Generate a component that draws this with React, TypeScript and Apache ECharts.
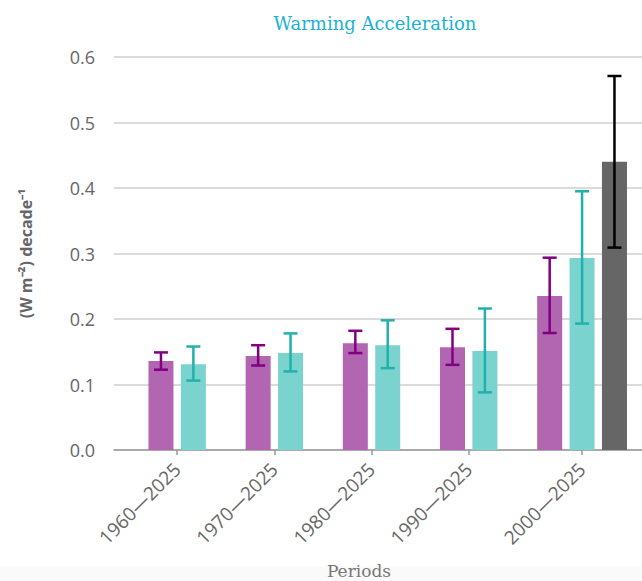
import React, { useEffect, useRef } from "react";
import * as echarts from "echarts";

const categories = ["1960—2025", "1970—2025", "1980—2025", "1990—2025", "2000—2025"];

const seriesA = [0.136, 0.1435, 0.163, 0.157, 0.235];
const seriesALow = [0.1226, 0.129, 0.148, 0.13, 0.1786];
const seriesAHigh = [0.149, 0.16, 0.182, 0.185, 0.2936];

const seriesB = [0.131, 0.148, 0.16, 0.151, 0.293];
const seriesBLow = [0.106, 0.12, 0.125, 0.088, 0.193];
const seriesBHigh = [0.158, 0.178, 0.198, 0.216, 0.395];

const seriesC = [null, null, null, null, 0.44];
const seriesCLow = [null, null, null, null, 0.309];
const seriesCHigh = [null, null, null, null, 0.571];

const yTicks = [0, 0.1, 0.2, 0.3, 0.4, 0.5, 0.6];

const barColors = ["#b266b2", "#7ad3cf", "#666666"];
const errColors = ["#800080", "#20b2aa", "#000000"];

export default function App() {
  const ref = useRef<HTMLDivElement>(null);

  useEffect(() => {
    if (!ref.current) return;
    const chart = echarts.init(ref.current, null, { renderer: "svg" });

    const groups = [
      { v: seriesA, lo: seriesALow, hi: seriesAHigh },
      { v: seriesB, lo: seriesBLow, hi: seriesBHigh },
      { v: seriesC, lo: seriesCLow, hi: seriesCHigh },
    ];

    // slot layout: bars of a category occupy consecutive slots, one empty slot between categories
    const barData: any[][] = [[], [], []];
    const errData: any[][] = [[], [], []];
    const centers: number[] = [];
    let s = 0;
    categories.forEach((_, i) => {
      const present = groups.map((g, k) => (g.v[i] != null ? k : -1)).filter((k) => k >= 0);
      present.forEach((k, j) => {
        const x = s + j;
        barData[k].push([x, groups[k].v[i]]);
        errData[k].push([x, groups[k].lo[i], groups[k].hi[i]]);
      });
      centers.push(s + (present.length - 1) / 2);
      s += present.length + 1;
    });

    const labelFor = (val: number) => {
      const idx = centers.findIndex((c) => Math.abs(c - val) < 1e-6);
      return idx >= 0 ? categories[idx] : "";
    };

    const errSeries = errData.map((d, k) => ({
      type: "custom",
      data: d,
      z: 5,
      renderItem: (params: any, api: any) => {
        const x = api.value(0);
        const lo = api.coord([x, api.value(1)]);
        const hi = api.coord([x, api.value(2)]);
        const cap = 7;
        const style = { stroke: errColors[k], lineWidth: 2.5 };
        return {
          type: "group",
          children: [
            { type: "line", shape: { x1: lo[0], y1: lo[1], x2: hi[0], y2: hi[1] }, style },
            { type: "line", shape: { x1: hi[0] - cap, y1: hi[1], x2: hi[0] + cap, y2: hi[1] }, style },
            { type: "line", shape: { x1: lo[0] - cap, y1: lo[1], x2: lo[0] + cap, y2: lo[1] }, style },
          ],
        };
      },
    }));

    const option: any = {
      animation: false,
      backgroundColor: "#ffffff",
      title: {
        text: "Warming Acceleration",
        left: 370,
        top: 9,
        textAlign: "center",
        textStyle: {
          fontFamily: "DejaVu Serif",
          fontSize: 18,
          fontWeight: "normal",
          color: "#19b1d6",
        },
      },
      graphic: [
        { type: "rect", left: 0, top: 566, shape: { width: 642, height: 15 }, style: { fill: "#fafafa" }, z: -10 },
      ],
      grid: { left: 114, right: 0, top: 57, bottom: 131, outerBoundsMode: "none", containLabel: false },
      xAxis: {
        type: "value",
        min: -1.45,
        max: 14.85,
        splitLine: { show: false },
        axisLine: { show: true, lineStyle: { color: "#999", width: 1.5 } },
        axisTick: {
          show: true,
          customValues: centers,
          length: 5,
          lineStyle: { color: "#999", width: 1.5 },
        },
        axisLabel: {
          customValues: centers,
          formatter: (v: number) => labelFor(v),
          rotate: 45,
          margin: 16,
          fontFamily: "Open Sans",
          fontSize: 19,
          color: "#666",
        },
        name: "Periods",
        nameLocation: "middle",
        nameGap: 112,
        nameTextStyle: {
          fontFamily: "DejaVu Serif",
          fontSize: 17,
          color: "#777",
          padding: [0, 38, 0, 0],
        },
      },
      yAxis: {
        type: "value",
        min: yTicks[0],
        max: yTicks[yTicks.length - 1],
        interval: 0.1,
        axisLine: { show: false },
        axisTick: { show: false },
        splitLine: { lineStyle: { color: "#cfcfcf", width: 1.5 } },
        axisLabel: {
          formatter: (v: number) => v.toFixed(1),
          margin: 19,
          fontFamily: "Open Sans",
          fontSize: 18,
          color: "#666",
        },
        name: "(W m⁻²) decade⁻¹",
        nameLocation: "middle",
        nameGap: 80,
        nameTextStyle: {
          fontFamily: "Open Sans",
          fontSize: 16,
          fontWeight: "bold",
          color: "#666",
        },
      },
      series: [
        ...barData.map((d, k) => ({
          type: "bar",
          data: d,
          barWidth: 25,
          barGap: "-100%",
          itemStyle: { color: barColors[k] },
          z: 2,
        })),
        ...errSeries,
      ],
    };

    chart.setOption(option);
    return () => chart.dispose();
  }, []);

  return (
    <div
      ref={ref}
      style={{ position: "fixed", left: 0, top: 0, width: 642, height: 581 }}
    />
  );
}
